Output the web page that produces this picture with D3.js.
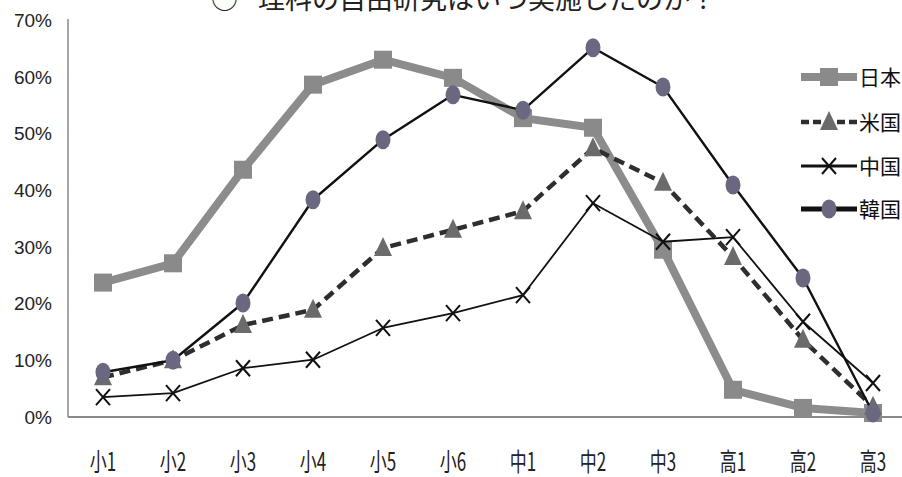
<!DOCTYPE html>
<html>
<head>
<meta charset="utf-8">
<script src="https://cdn.jsdelivr.net/npm/d3@7"></script>
<style>
  body { margin: 0; background: #fff; }
  svg { display: block; }
</style>
</head>
<body>
<div id="container"></div>
<script>
// ------ Data ------
const categories = ['小1', '小2', '小3', '小4', '小5', '小6', '中1', '中2', '中3', '高1', '高2', '高3'];
const japan = [23.7, 27.1, 43.6, 58.6, 63.0, 59.8, 52.7, 51.0, 29.5, 4.8, 1.6, 0.7];
const usa   = [7.0, 10.0, 16.2, 18.9, 29.8, 33.0, 36.3, 47.4, 41.3, 28.2, 13.6, 1.8];
const china = [3.5, 4.2, 8.6, 10.1, 15.7, 18.3, 21.5, 37.7, 30.9, 31.7, 16.8, 6.0];
const korea = [7.9, 10.0, 20.1, 38.3, 48.9, 56.8, 54.1, 65.1, 58.2, 40.9, 24.5, 0.7];
const seriesNames = ['日本', '米国', '中国', '韓国'];
const yTicks = [0, 10, 20, 30, 40, 50, 60, 70];

// ------ Global Values ------
const width = 902,
  height = 477;

const svg = d3.select('#container').append('svg')
  .attr('width', width)
  .attr('height', height);

const x = d3.scalePoint()
  .domain(categories)
  .range([68, 908])
  .padding(0.5);

const y = d3.scaleLinear()
  .domain([0, 70])
  .range([417, 20]);

const styles = [
  { name: seriesNames[0], data: japan, stroke: '#8c8c8c', width: 8, dash: null, marker: 'square', fill: '#8a8a8a' },
  { name: seriesNames[1], data: usa, stroke: '#2e2e2e', width: 4.5, dash: '11,6', marker: 'triangle', fill: '#6b6b6b' },
  { name: seriesNames[2], data: china, stroke: '#111', width: 1.8, dash: null, marker: 'cross', fill: 'none' },
  { name: seriesNames[3], data: korea, stroke: '#111', width: 2.4, dash: null, marker: 'circle', fill: '#6a6880' }
];

// title (top half is cut off in the original)
svg.append('text')
  .attr('x', 211).attr('y', 9)
  .style('font', '27px "Noto Sans CJK JP"')
  .attr('fill', '#222')
  .text('○');
svg.append('text')
  .attr('x', 258).attr('y', 9)
  .style('font', '27px "Noto Sans CJK JP"')
  .attr('fill', '#222')
  .text('理科の自由研究はいつ実施したのか？');

// axes
svg.append('line')
  .attr('x1', 68).attr('x2', 68)
  .attr('y1', y(70) - 1).attr('y2', y(0))
  .attr('stroke', '#8a8a8a').attr('stroke-width', 1.5);
svg.append('line')
  .attr('x1', 68).attr('x2', width)
  .attr('y1', y(0)).attr('y2', y(0))
  .attr('stroke', '#8a8a8a').attr('stroke-width', 2);

svg.append('g').selectAll('text').data(yTicks)
  .enter().append('text')
  .attr('x', 52)
  .attr('y', d => y(d))
  .attr('dy', '0.36em')
  .attr('text-anchor', 'end')
  .style('font', '19px "Liberation Sans Narrow", "Liberation Sans", sans-serif')
  .attr('fill', '#222')
  .text(d => d + '%');

svg.append('g').selectAll('text').data(categories)
  .enter().append('text')
  .attr('transform', d => `translate(${x(d)},471) scale(0.68,1)`)
  .attr('text-anchor', 'middle')
  .style('font', '25px "Noto Sans CJK JP"')
  .attr('fill', '#222')
  .text(d => d);

// markers
function drawMarker(g, type, cx, cy, s) {
  if (type === 'square') {
    g.append('rect')
      .attr('x', cx - 9).attr('y', cy - 9)
      .attr('width', 18).attr('height', 18)
      .attr('fill', s.fill);
  } else if (type === 'triangle') {
    g.append('path')
      .attr('d', `M${cx},${cy - 11}L${cx + 9},${cy + 8}L${cx - 9},${cy + 8}Z`)
      .attr('fill', s.fill);
  } else if (type === 'cross') {
    g.append('path')
      .attr('d', `M${cx - 7},${cy - 8}L${cx + 7},${cy + 8}M${cx + 7},${cy - 8}L${cx - 7},${cy + 8}`)
      .attr('stroke', '#111').attr('stroke-width', 2).attr('fill', 'none');
  } else {
    g.append('ellipse')
      .attr('cx', cx).attr('cy', cy)
      .attr('rx', 7.5).attr('ry', 9.5)
      .attr('fill', s.fill);
  }
}

const line = d3.line()
  .x((d, i) => x(categories[i]))
  .y(d => y(d));

for (let s of styles) {
  const g = svg.append('g').attr('class', 'series');
  g.append('path')
    .attr('d', line(s.data))
    .attr('fill', 'none')
    .attr('stroke', s.stroke)
    .attr('stroke-width', s.width)
    .attr('stroke-dasharray', s.dash)
    .attr('stroke-linejoin', 'round');
  s.data.forEach((v, i) => drawMarker(g, s.marker, x(categories[i]), y(v), s));
}

// legend
const legendY = [77, 122, 166, 209];
styles.forEach((s, i) => {
  const g = svg.append('g').attr('class', 'legend');
  const ly = legendY[i];
  g.append('line')
    .attr('x1', 801).attr('x2', 857)
    .attr('y1', ly).attr('y2', ly)
    .attr('stroke', s.stroke)
    .attr('stroke-width', i === 3 ? 5 : (i === 2 ? 3 : s.width))
    .attr('stroke-dasharray', s.dash ? '8,4' : null);
  drawMarker(g, s.marker, 829, ly, s);
  g.append('text')
    .attr('x', 859).attr('y', ly)
    .attr('dy', '0.36em')
    .style('font', '21px "Noto Sans CJK JP"')
    .attr('fill', '#111')
    .text(s.name);
});
</script>
</body>
</html>
